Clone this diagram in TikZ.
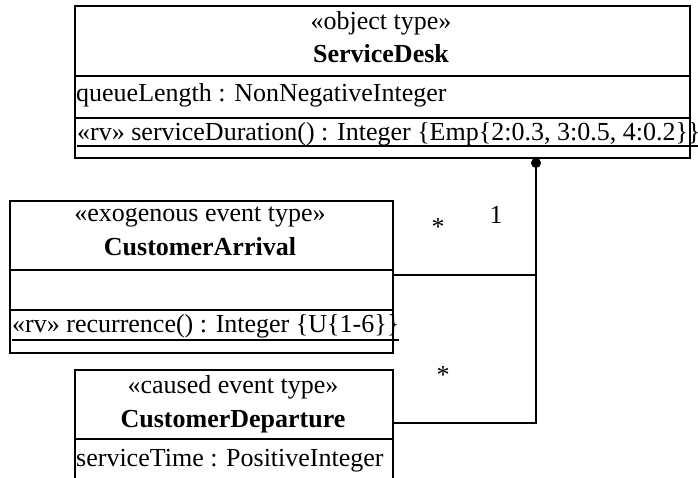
\documentclass[tikz,border=0pt]{standalone}
\usepackage{fontspec}
\setmainfont{Liberation Serif}
\usetikzlibrary{positioning}

\begin{document}
\begin{tikzpicture}[x=1pt,y=-1pt,
        font=\fontsize{26}{31}\selectfont,
        compart/.style={draw, line width=2pt, rectangle, inner sep=0pt,
        anchor=north west},
        label text/.style={inner sep=0pt, anchor=base},
        type name/.style={label text, font=\fontsize{26}{31}\selectfont\bfseries},
        member/.style={inner sep=0pt, anchor=base west},
        assoc/.style={draw, line width=1.4pt}
        ]
        \useasboundingbox (0,0) rectangle (698,478);

        % ServiceDesk
        \node [compart, minimum width=615pt, minimum height=70pt] (sdHead) at (74,5) {};
        \node [compart, minimum width=615pt, minimum height=42pt] (sdAttr) at (74,75) {};
        \node [compart, minimum width=615pt, minimum height=40pt] (sdOps) at (74,117) {};
        \node [label text] (sdStereo) at (381,30) {«object type»};
        \node [type name] (sdName) at (381,63) {ServiceDesk};
        \node [member] (queueLength) at (76,102) {queueLength : NonNegativeInteger};
        \node [member] (serviceDuration) at (77,141) {«rv» serviceDuration() : Integer \{Emp\{2:0.3, 3:0.5, 4:0.2\}\}};
        \draw [line width=1.6pt] ([yshift=-5pt]serviceDuration.base west) -- ([yshift=-5pt]serviceDuration.base east);

        % CustomerArrival
        \node [compart, minimum width=383pt, minimum height=69pt] (caHead) at (9,200) {};
        \node [compart, minimum width=383pt, minimum height=40pt] (caAttr) at (9,269) {};
        \node [compart, minimum width=383pt, minimum height=43pt] (caOps) at (9,309) {};
        \node [label text] (caStereo) at (200,222) {«exogenous event type»};
        \node [type name] (caName) at (200,255) {CustomerArrival};
        \node [member] (recurrence) at (12,332) {«rv» recurrence() : Integer \{U\{1-6\}\}};
        \draw [line width=1.6pt] ([yshift=-8pt]recurrence.base west) -- ([yshift=-8pt]recurrence.base east);

        % CustomerDeparture
        \node [compart, minimum width=318pt, minimum height=69pt] (cdHead) at (74,369) {};
        \node [compart, minimum width=318pt, minimum height=50pt] (cdAttr) at (74,438) {};
        \node [label text] (cdStereo) at (233,393) {«caused event type»};
        \node [type name] (cdName) at (233,427) {CustomerDeparture};
        \node [member] (serviceTime) at (76,466) {serviceTime : PositiveInteger};

        % associations
        \coordinate (dot) at (536,163);
        \coordinate (joint) at (536,275);
        \coordinate (caPort) at (caHead.east |- joint);
        \coordinate (cdPort) at (392,423);
        \fill (dot) circle (5pt);
        \draw [assoc] (dot) -- (dot |- cdPort) -- (cdPort);
        \draw [assoc] (caPort) -- (joint);

        \node at (438,227) {*};
        \node at (496,215) {1};
        \node at (443,375) {*};
     \end{tikzpicture}
\end{document}
